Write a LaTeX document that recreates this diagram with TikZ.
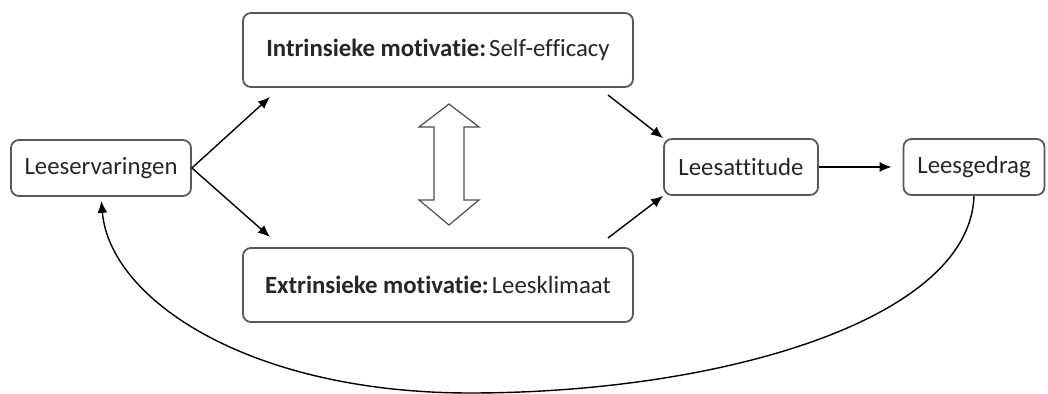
\documentclass[tikz,border=0pt]{standalone}
\usepackage{fontspec}
\setmainfont[Ligatures=NoCommon]{Carlito}
\usepackage{tikz}
\usetikzlibrary{arrows.meta}

\begin{document}
\begin{tikzpicture}[x=0.5pt, y=-0.5pt,
    box/.style={draw=black!65, line width=0.9pt, rounded corners=4pt, fill=white,
        text=black!85, font=\fontsize{12.4}{15}\selectfont, inner sep=0pt},
    arr/.style={line width=0.7pt, -{Latex[length=6pt, width=5pt]}}]
\useasboundingbox (0, 0) rectangle (1048, 394);
\node[box, minimum width=90pt,  minimum height=28pt] (Le) at (101, 168) {Leeservaringen};
\node[box, minimum width=195pt, minimum height=37pt] (In) at (438, 50) {\textbf{Intrinsieke motivatie:}\hspace{0.12em}Self-efficacy};
\node[box, minimum width=195pt, minimum height=37pt] (Ex) at (438, 285) {\textbf{Extrinsieke motivatie:}\hspace{0.12em}Leesklimaat};
\node[box, minimum width=77pt,  minimum height=28pt] (La) at (741, 167) {Leesattitude};
\node[box, minimum width=70.5pt,minimum height=28pt] (Lg) at (974, 167) {Leesgedrag};
\coordinate (inA) at (270, 97);
\coordinate (exA) at (270, 237);
\coordinate (inB) at (608, 95);
\coordinate (exB) at (608, 238);
\coordinate (bot) at (470, 393);
\draw[arr] (Le.east) -- (inA);
\draw[arr] (Le.east) -- (exA);
\draw[arr] (inB) -- (La.north west);
\draw[arr] (exB) -- (La.south west);
\draw[arr, shorten >=5.5pt] (La.east) -- (Lg.west);
\draw[arr, shorten >=2pt] (Lg.south) .. controls (970, 320) and (720, 393) .. (bot)
    .. controls (250, 393) and (110, 300) .. (Le.south);
% hollow double arrow between the two motivation boxes
\draw[black!70, line width=0.6pt, fill=white] (449, 104) -- (479, 127) -- (464, 127) -- (464, 200)
    -- (479, 200) -- (449, 225) -- (419, 200) -- (434, 200) -- (434, 127) -- (419, 127) -- cycle;
\end{tikzpicture}
\end{document}
